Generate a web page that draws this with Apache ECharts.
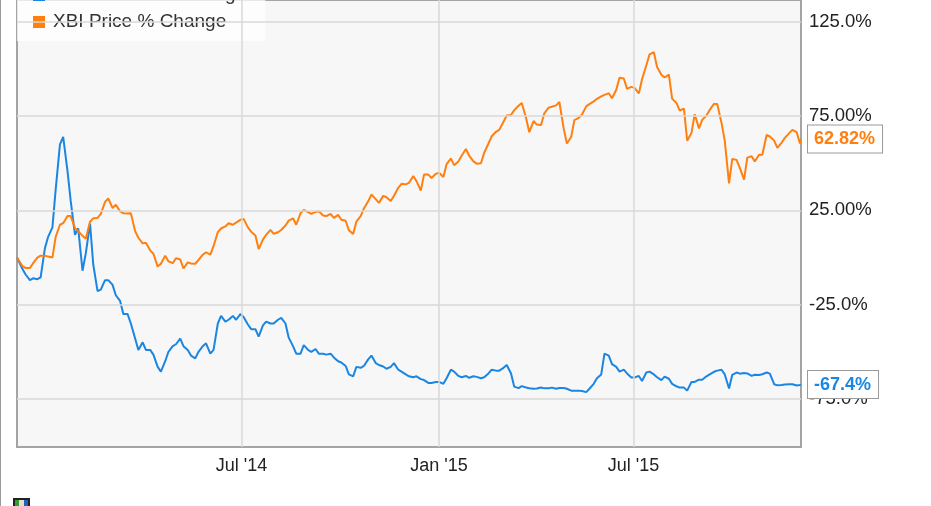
<!DOCTYPE html>
<html>
<head>
<meta charset="utf-8">
<script src="https://cdn.jsdelivr.net/npm/echarts@6/dist/echarts.min.js"></script>
<style>
html,body{margin:0;padding:0;background:#fff;}
#c{width:931px;height:506px;}
</style>
</head>
<body>
<div id="c"></div>
<script>
const blueName = 'CLDX Price % Change';
const orangeName = 'XBI Price % Change';

const dates = [
'2013-12-04','2013-12-05','2013-12-09','2013-12-12','2013-12-16','2013-12-19','2013-12-23','2013-12-26','2013-12-30',
'2014-01-02','2014-01-06','2014-01-09','2014-01-13','2014-01-16','2014-01-20','2014-01-23','2014-01-27','2014-01-30',
'2014-02-03','2014-02-06','2014-02-10','2014-02-13','2014-02-17','2014-02-20','2014-02-24','2014-02-27',
'2014-03-03','2014-03-06','2014-03-10','2014-03-13','2014-03-17','2014-03-20','2014-03-24','2014-03-27','2014-03-31',
'2014-04-03','2014-04-07','2014-04-10','2014-04-14','2014-04-17','2014-04-21','2014-04-24','2014-04-28',
'2014-05-01','2014-05-05','2014-05-08','2014-05-12','2014-05-15','2014-05-19','2014-05-22','2014-05-26','2014-05-29',
'2014-06-02','2014-06-05','2014-06-09','2014-06-12','2014-06-16','2014-06-19','2014-06-23','2014-06-26','2014-06-30',
'2014-07-03','2014-07-07','2014-07-10','2014-07-14','2014-07-17','2014-07-21','2014-07-24','2014-07-28','2014-07-31',
'2014-08-04','2014-08-07','2014-08-11','2014-08-14','2014-08-18','2014-08-21','2014-08-25','2014-08-28',
'2014-09-01','2014-09-04','2014-09-08','2014-09-11','2014-09-15','2014-09-18','2014-09-22','2014-09-25','2014-09-29',
'2014-10-02','2014-10-06','2014-10-09','2014-10-13','2014-10-16','2014-10-20','2014-10-23','2014-10-27','2014-10-30',
'2014-11-03','2014-11-06','2014-11-10','2014-11-13','2014-11-17','2014-11-20','2014-11-24','2014-11-27',
'2014-12-01','2014-12-04','2014-12-08','2014-12-11','2014-12-15','2014-12-18','2014-12-22','2014-12-25','2014-12-29',
'2015-01-01','2015-01-05','2015-01-08','2015-01-12','2015-01-15','2015-01-19','2015-01-22','2015-01-26','2015-01-29',
'2015-02-02','2015-02-05','2015-02-09','2015-02-12','2015-02-16','2015-02-19','2015-02-23','2015-02-26',
'2015-03-02','2015-03-05','2015-03-09','2015-03-12','2015-03-16','2015-03-19','2015-03-23','2015-03-26','2015-03-30',
'2015-04-02','2015-04-06','2015-04-09','2015-04-13','2015-04-16','2015-04-20','2015-04-23','2015-04-27','2015-04-30',
'2015-05-04','2015-05-07','2015-05-11','2015-05-14','2015-05-18','2015-05-21','2015-05-25','2015-05-28',
'2015-06-01','2015-06-04','2015-06-08','2015-06-11','2015-06-15','2015-06-18','2015-06-22','2015-06-25','2015-06-29',
'2015-07-02','2015-07-06','2015-07-09','2015-07-13','2015-07-16','2015-07-20','2015-07-23','2015-07-27','2015-07-30',
'2015-08-03','2015-08-06','2015-08-10','2015-08-13','2015-08-17','2015-08-20','2015-08-24','2015-08-27','2015-08-31',
'2015-09-03','2015-09-07','2015-09-10','2015-09-14','2015-09-17','2015-09-21','2015-09-24','2015-09-28',
'2015-10-01','2015-10-05','2015-10-08','2015-10-12','2015-10-15','2015-10-19','2015-10-22','2015-10-26','2015-10-29',
'2015-11-02','2015-11-05','2015-11-09','2015-11-12','2015-11-16','2015-11-19','2015-11-23','2015-11-26','2015-11-30',
'2015-12-03','2015-12-04'
];

const blueValues = [
0,-1,-6,-9,-12,-11,-11.5,-10.5,5,
11,16,36,60,64,46,30,12,15.5,
-7,2,18,-3.7,-17.8,-17,-12,-12,
-14.5,-20,-23,-30,-30,-35,-43,-49,-45,
-49,-49,-51.5,-58,-60.5,-55,-50,-47,
-46,-43,-47,-49,-52,-53.5,-50,-47,-45.5,
-51,-49,-35,-31,-34,-33,-31,-33,-30,
-31.5,-35.5,-38,-38,-42,-36,-34,-35,-35,
-33,-32,-35,-42.5,-47,-51,-51,-46.5,
-49,-50,-48.5,-51,-51,-51.5,-51,-53,-55,
-55.7,-57.5,-62,-63,-58,-58.5,-57.5,-54,-52,
-56,-57,-57.8,-59,-58,-56,-59.5,-60.5,
-62,-63,-63.5,-63,-64.5,-65,-66.5,-66.5,-66,
-66,-67,-64,-59.5,-60.5,-62.8,-63.5,-62.8,-63.8,
-63,-63.3,-64,-63.5,-61.5,-59.5,-60,-60,
-58.5,-57,-61.5,-68.5,-69.3,-68.2,-68.9,-69.3,-69.6,
-69.5,-68.9,-69.4,-69.3,-69,-69.6,-69.2,-69.2,-69.6,
-70.6,-70.6,-70.6,-70.8,-71.4,-69.6,-67,-64,
-62,-51,-52,-56.5,-58,-60.5,-59.5,-61.5,-63.6,
-63.6,-62.8,-65.5,-61,-60.5,-62,-63.5,-65,-63.2,
-64.3,-67,-68.3,-69,-69,-70.6,-66,-66,-64.8,
-64.8,-63,-62,-60.6,-60,-59.5,-62,-69.5,
-62.2,-61,-61.6,-61.2,-61.5,-62.8,-62.2,-62.3,-61.9,
-61,-61.6,-67.2,-67.8,-67.6,-67.3,-67.2,-67.2,-67.9,
-67.6,-67.4
];

const orangeValues = [
0,-1,-4.5,-5.6,-5.6,-3,0,1,1,
0.5,0,11,17.4,18.2,22,22,15.6,14,
11.5,10,19,20.8,21,23,29.5,31.3,
26.2,28,24.5,23.5,23.3,23.5,14,10.5,7.5,
7.8,3.8,2,-4.8,-3.3,1,-2,-3,
-0.4,-1,-5.8,-2.6,-3.2,-3.3,-1.3,1.5,2.8,
1.5,6,13.5,15.4,16.5,18.2,17.4,18.5,20,
20.5,16,13.7,11.7,4.5,9.5,12,14.7,12.6,
13.4,14.6,17,19.6,20.8,17.4,23.5,25.3,
24.1,23.2,24.2,24.5,22.3,22,23.2,21,22.6,
20,19.5,14.5,12.5,19,22,26,29.8,33.4,
31,29,32.7,32,30,32.8,37,39.1,
38.8,39.6,43.2,40.5,35.5,44,44,42.2,44.4,
45,42.7,49.5,52.5,49,51,54,57.6,54,
51,49.8,50,55.5,60.5,64.3,66.7,67.7,
72,75.3,75.6,78.2,80.5,82,74,66.5,72.4,
70.5,70.3,76.5,79.5,80,80.7,82.5,68.5,60.5,
63.9,72.9,74.1,75.7,80.2,81.4,82.8,84.2,
85.5,86.3,87.1,84.5,89,95.3,95,89.5,90.5,
90,87,94.6,102,107.8,108.9,101,97,95.5,
97,84.3,82,78,79,62,66,76,68.5,
73,75.3,78.3,81.5,81.5,71.4,62,39.3,
52.3,51.8,47.6,41.3,53,53.7,51,54.5,54.5,
65,64.2,62,58.2,61,63.5,66,67.7,66.5,
60.5,62.82
];

const yTickValues = [-75, -25, 25, 75, 125];
const xTickDates = ['2014-07-01', '2015-01-01', '2015-07-01'];
const xStart = '2013-12-04';
const xEnd = '2015-12-04';

function parseD(s) { const p = s.split('-'); return new Date(+p[0], +p[1] - 1, +p[2]).getTime(); }
function fmt5(v) {
  for (let d = 2; d >= 0; d--) { const s = v.toFixed(d); if (s.length <= 5) return s; }
  return v.toFixed(0);
}
const MONTHS = ['Jan','Feb','Mar','Apr','May','Jun','Jul','Aug','Sep','Oct','Nov','Dec'];
function fmtMonth(v) { const d = new Date(v); return MONTHS[d.getMonth()] + " '" + String(d.getFullYear()).slice(2); }

const blueData = dates.map((d, i) => [parseD(d), blueValues[i]]);
const orangeData = dates.map((d, i) => [parseD(d), orangeValues[i]]);

const BLUE = '#1a86e2';
const ORANGE = '#ff7f0f';
const FONT = '"Liberation Sans", Arial, sans-serif';
const GRIDLINE = { color: '#d9d9d9', width: 1.5, type: 'solid' };

const chart = echarts.init(document.getElementById('c'), null, { renderer: 'canvas' });

function endLabel(color) {
  return {
    show: true,
    formatter: p => fmt5(p.value[1]) + '%',
    color: color,
    fontWeight: 'bold',
    fontSize: 18,
    fontFamily: FONT,
    backgroundColor: '#fff',
    borderColor: '#9a9a9a',
    borderWidth: 1,
    padding: [5, 7, 4, 6],
    distance: 7
  };
}

chart.setOption({
  animation: false,
  backgroundColor: '#ffffff',
  textStyle: { fontFamily: FONT },
  grid: {
    left: 17, right: 130, top: -2, bottom: 59,
    show: true, backgroundColor: '#f7f7f7', borderColor: '#a4a4a4', borderWidth: 2
  },
  legend: {
    orient: 'vertical', left: 17, top: -20,
    padding: [5, 19, 9, 16], itemGap: 7, itemWidth: 12, itemHeight: 12,
    backgroundColor: 'rgba(255,255,255,0.75)',
    textStyle: { fontSize: 19, color: '#333', lineHeight: 20, fontFamily: FONT, padding: [0, 0, 0, 3] },
    data: [
      { name: blueName, icon: 'path://M0,0L12,0L12,12L0,12Z' },
      { name: orangeName, icon: 'path://M0,0L12,0L12,12L0,12Z' }
    ]
  },
  xAxis: {
    type: 'time', min: parseD(xStart), max: parseD(xEnd),
    axisLine: { show: false }, axisTick: { show: false }, splitLine: { show: false },
    axisLabel: { show: false }
  },
  yAxis: {
    type: 'value', position: 'right', min: -100.5, max: 136.6,
    axisLine: { show: false }, axisTick: { show: false }, splitLine: { show: false },
    axisLabel: {
      customValues: yTickValues,
      formatter: v => fmt5(v) + '%',
      fontSize: 18.5, color: '#222', margin: 8, fontFamily: FONT
    }
  },
  graphic: [
    { type: 'line', shape: { x1: 0.5, y1: 0, x2: 0.5, y2: 506 }, style: { stroke: '#999', lineWidth: 1 }, silent: true },
    { type: 'rect', shape: { x: 13, y: 498, width: 17, height: 10 }, style: { fill: '#222' }, silent: true },
    { type: 'rect', shape: { x: 15, y: 500, width: 4, height: 8 }, style: { fill: '#2e9e3a' }, silent: true },
    { type: 'rect', shape: { x: 19, y: 500, width: 5, height: 8 }, style: { fill: '#e8e0c0' }, silent: true },
    { type: 'rect', shape: { x: 24, y: 500, width: 4, height: 8 }, style: { fill: '#2060c0' }, silent: true }
  ],
  series: [
    {
      name: 'grid', type: 'line', data: [], z: 1, silent: true,
      markLine: {
        silent: true, symbol: 'none', animation: false,
        label: { show: false },
        lineStyle: GRIDLINE,
        data: yTickValues.map(v => ({ yAxis: v })).concat(xTickDates.map(d => ({
          xAxis: parseD(d),
          label: {
            show: true, position: 'start', distance: 10,
            formatter: p => fmtMonth(p.value),
            color: '#222', fontSize: 18, fontFamily: FONT
          }
        })))
      }
    },
    {
      name: blueName, type: 'line', data: blueData, z: 3,
      showSymbol: false, symbol: 'none',
      lineStyle: { color: BLUE, width: 2 }, itemStyle: { color: BLUE },
      endLabel: endLabel(BLUE)
    },
    {
      name: orangeName, type: 'line', data: orangeData, z: 3,
      showSymbol: false, symbol: 'none',
      lineStyle: { color: ORANGE, width: 2 }, itemStyle: { color: ORANGE },
      endLabel: endLabel(ORANGE)
    }
  ]
});
</script>
</body>
</html>
